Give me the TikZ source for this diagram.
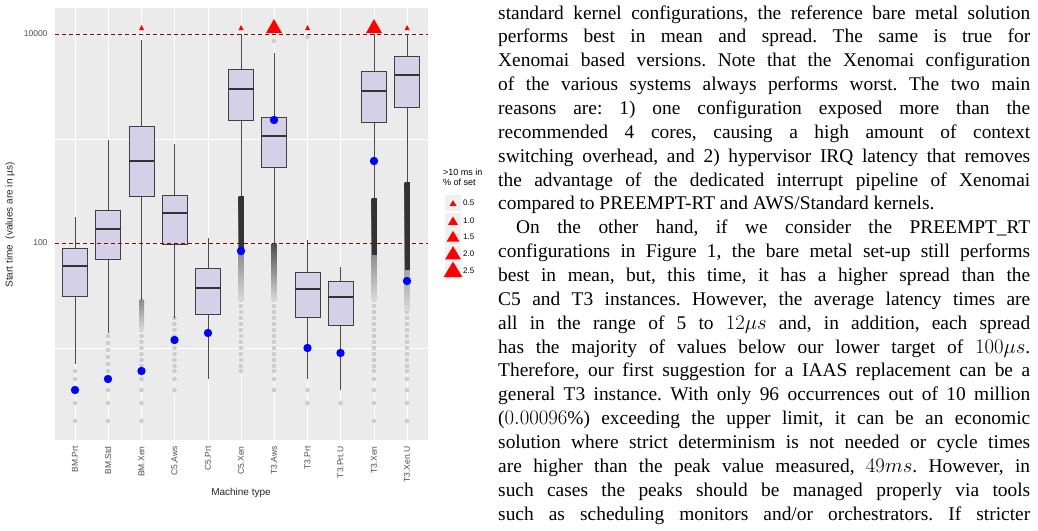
\documentclass[tikz,border=0pt]{standalone}
\usepackage{fontspec}
\setmainfont{Liberation Serif}
\newfontfamily\plotfont{Liberation Sans}
\definecolor{boxfill}{RGB}{212,208,232}
\begin{document}
\begin{tikzpicture}[x=1pt,y=-1pt,
  boxst/.style={draw=black!75,fill=boxfill,line width=0.9pt},
  whisk/.style={draw=black!70,line width=0.8pt},
  outl/.style={fill=black!20,draw=none},
  meanpt/.style={fill=blue,draw=none},
  tri/.style={fill=red,draw=none},
  ttl/.style={font=\plotfont\fontsize{10}{11}\selectfont,text=black!85},
  tick/.style={font=\plotfont\fontsize{8.5}{9}\selectfont,text=black!70}]
\useasboundingbox (0,0) rectangle (1038,530);
% panel
\fill[black!8] (55,8) rectangle (428,440);
\foreach \y in {139,348} \draw[white,line width=0.6pt] (55,\y) -- (428,\y);
\foreach \y in {34,243} \draw[white,line width=1pt] (55,\y) -- (428,\y);
\foreach \x in {75,108,141.5,174.5,208,241,274,307.5,340.5,374,407} \draw[white,line width=1pt] (\x,8) -- (\x,440);
% outlier dots
\foreach \x/\ys in {75/{371,379,390,403,421},108/{336,343,350,357,364,371,379,390,403,421},
  141.5/{300,306,312,318,324,330,336,342,348,354,360,366,371,379,390,403,421},
  174.5/{318,324,330,336,342,348,354,360,366,371,379,390},
  241/{300,306,312,318,324,330,336,342,348,354,360,366,371},
  274/{41,300,306,312,318,324,330,336,342,348,354,360,366,371,379,390},
  307.5/{37,390,403},340.5/{403},
  374/{300,306,312,318,324,330,336,342,348,354,360,366,371,379,390,403,421},
  407/{300,306,312,318,324,330,336,342,348,354,360,366,371,379,390,403,421}}
  \foreach \yy in \ys \fill[outl] (\x,\yy) circle (2.3);
% thick shaded stretches
\shade[top color=black!80,bottom color=black!15] (238.5,196) rectangle (243.5,300);
\fill[black!80] (238.5,196) rectangle (243.5,250);
\shade[top color=black!70,bottom color=black!15] (271.5,243) rectangle (276.5,300);
\shade[top color=black!80,bottom color=black!15] (371.5,198) rectangle (376.5,300);
\fill[black!80] (371.5,198) rectangle (376.5,255);
\shade[top color=black!80,bottom color=black!15] (404.5,182) rectangle (409.5,310);
\fill[black!80] (404.5,182) rectangle (409.5,270);
\shade[top color=black!45,bottom color=black!15] (139,300) rectangle (144,330);
% boxes: x / whisker top / box top / median / box bottom / whisker bottom
\foreach \x/\wt/\bt/\md/\bb/\wb in {75/217/248/266/296/364,108/140/210/229/259/333,
  141.5/40/126/161/196/300,174.5/144/195/213/244/318,208/238/268/288/314/379,
  241/34/69/89/120/196,274/53/117/136/167/243,307.5/240/272/289/317/379,
  340.5/267/281/297/325/390,374/34/71/91/122/198,407/34/56/75/107/182}{
  \draw[whisk] (\x,\wt) -- (\x,\wb);
  \filldraw[boxst] (\x-12.5,\bt) rectangle (\x+12.5,\bb);
  \draw[black!80,line width=1.4pt] (\x-12.5,\md) -- (\x+12.5,\md);
}
% reference lines
\foreach \y in {34,243} \draw[red!60!black,line width=0.9pt,dash pattern=on 4pt off 3pt] (55,\y) -- (428,\y);
% means
\foreach \x/\y in {75/390,108/379,141.5/371,174.5/340,208/333,241/251,274/120,307.5/348,340.5/353,374/161,407/281}
  \fill[meanpt] (\x,\y) circle (4.2);
% red triangles
\foreach \x in {141.5,241,307.5,407} \fill[tri] (\x-2.5,30) -- (\x+2.5,30) -- (\x,25) -- cycle;
\foreach \x in {274,374} \fill[tri] (\x-8,33) -- (\x+8,33) -- (\x,19) -- cycle;
% axes text
\node[tick,anchor=east] (t1) at (51,34) {10000};
\node[tick,anchor=east] (t2) at (51,243) {100};
\foreach \x/\l in {75/BM.Prt,108/BM.Std,141.5/BM.Xen,174.5/C5.Aws,208/C5.Prt,241/C5.Xen,274/T3.Aws,307.5/T3.Prt,340.5/T3.Prt.U,374/T3.Xen,407/T3.Xen.U}
  \node[tick,rotate=90,anchor=east] at (\x,443) {\l};
\node[ttl] (xt) at (241,493) {Machine type};
\node[ttl,rotate=90] (yt) at (10,225) {Start time \ (values are in µs)};
% legend
\node[font=\plotfont\fontsize{9}{10}\selectfont,anchor=north west,align=left,inner sep=0pt] (lt) at (443,169) {>10 ms in\\\% of set};
\foreach \y/\s/\l in {203/3.5/0.5,221/5/1.0,237/6.5/1.5,254/8/2.0,271/9.5/2.5}{
  \fill[black!6] (445,\y-8) rectangle (461,\y+8);
  \fill[tri] (453-\s,\y+0.55*\s+1) -- (453+\s,\y+0.55*\s+1) -- (453,\y-1.1*\s+1) -- cycle;
  \node[font=\plotfont\fontsize{8}{9}\selectfont,anchor=west,inner sep=0pt] at (463,\y) {\l};
}
% text column
\node[anchor=base west,inner sep=0pt] (txt) at (498,19) {\parbox[t]{532pt}{\fontsize{19.4}{23.86}\selectfont\frenchspacing\hbadness=10000\hfuzz=30pt
standard kernel configurations, the reference bare metal solution\linebreak
performs best in mean and spread. The same is true for\linebreak
Xenomai based versions. Note that the Xenomai configuration\linebreak
of the various systems always performs worst. The two main\linebreak
reasons are: 1) one configuration exposed more than the\linebreak
recommended 4 cores, causing a high amount of context\linebreak
switching overhead, and 2) hypervisor IRQ latency that removes\linebreak
the advantage of the dedicated interrupt pipeline of Xenomai\linebreak
compared to PREEMPT-RT and AWS/Standard kernels.\par
\parindent=18pt
On the other hand, if we consider the PREEMPT\_RT\linebreak
configurations in Figure 1, the bare metal set-up still performs\linebreak
best in mean, but, this time, it has a higher spread than the\linebreak
C5 and T3 instances. However, the average latency times are\linebreak
all in the range of 5 to $12\mu s$ and, in addition, each spread\linebreak
has the majority of values below our lower target of $100\mu s$.\linebreak
Therefore, our first suggestion for a IAAS replacement can be a\linebreak
general T3 instance. With only 96 occurrences out of 10 million\linebreak
($0.00096\%$) exceeding the upper limit, it can be an economic\linebreak
solution where strict determinism is not needed or cycle times\linebreak
are higher than the peak value measured, $49ms$. However, in\linebreak
such cases the peaks should be managed properly via tools\linebreak
such as scheduling monitors and/or orchestrators. If stricter\linebreak
}};
\end{tikzpicture}
\end{document}
